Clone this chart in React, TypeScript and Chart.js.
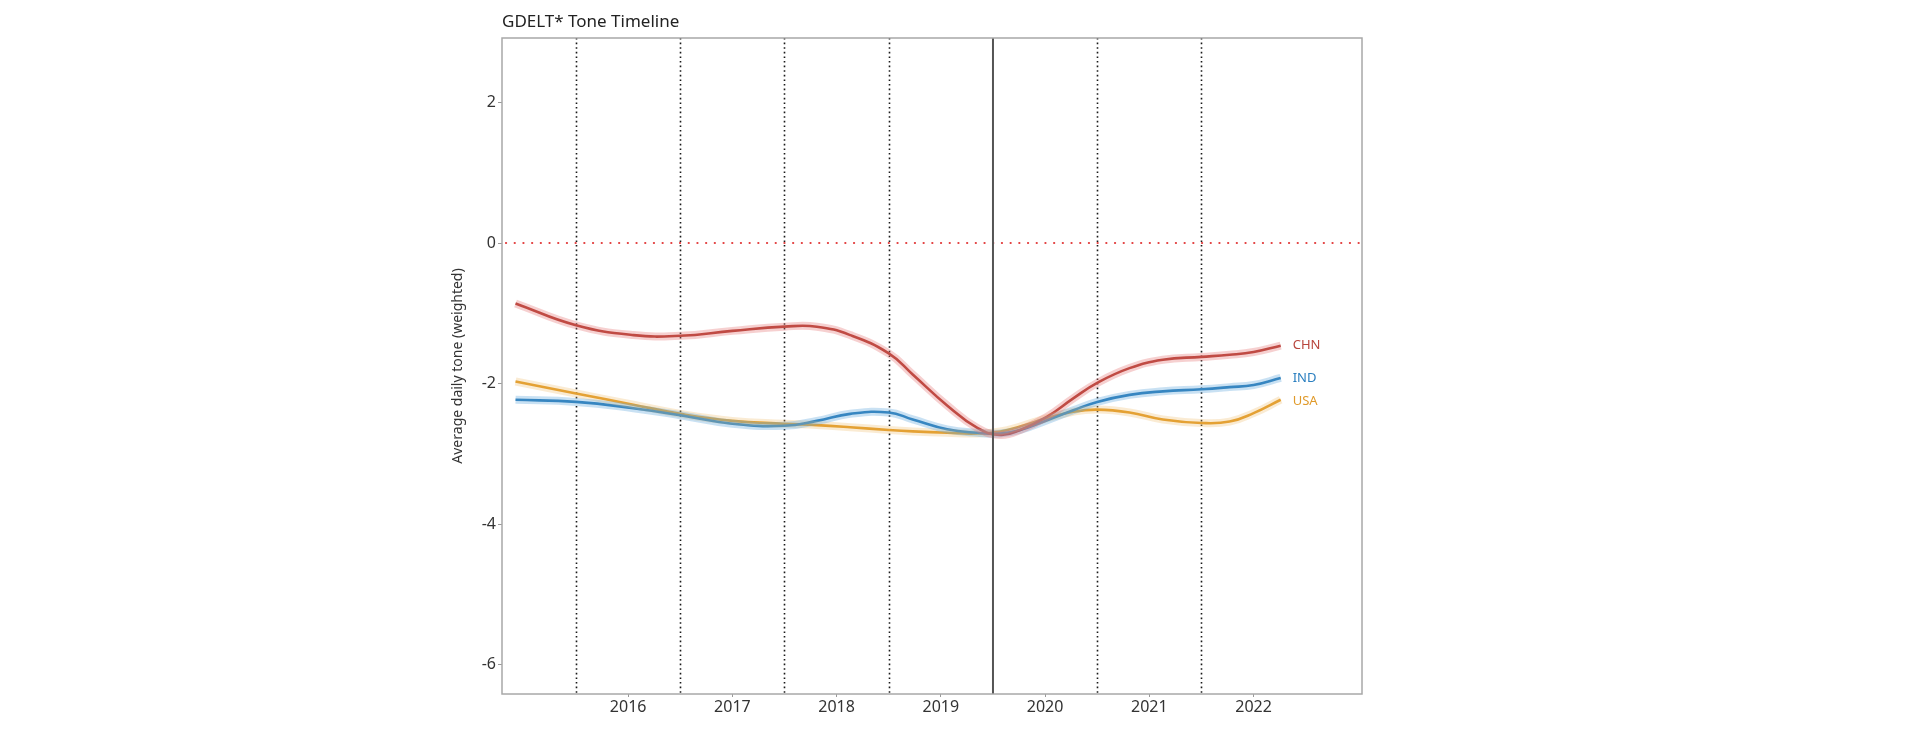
import React, { useEffect, useRef } from 'react';
import { Chart, registerables, Plugin } from 'chart.js';
Chart.register(...registerables);

// sampling positions (decimal years) where the smoothed curves were read
const years = [2014.92, 2015.5, 2016.05, 2016.5, 2017.0, 2017.5, 2017.81, 2018.13, 2018.5, 2018.73, 2019.06, 2019.35, 2019.57, 2019.76, 2020.02, 2020.27, 2020.5, 2020.81, 2021.13, 2021.5, 2021.77, 2022.0, 2022.26];

const chnTone = [-0.86, -1.17, -1.31, -1.32, -1.25, -1.19, -1.19, -1.31, -1.57, -1.87, -2.31, -2.63, -2.73, -2.66, -2.47, -2.21, -1.99, -1.78, -1.66, -1.62, -1.59, -1.55, -1.46];
const indTone = [-2.23, -2.26, -2.35, -2.45, -2.57, -2.60, -2.53, -2.43, -2.41, -2.51, -2.65, -2.70, -2.71, -2.66, -2.52, -2.38, -2.26, -2.16, -2.11, -2.08, -2.05, -2.02, -1.92];
const usaTone = [-1.97, -2.14, -2.30, -2.43, -2.53, -2.57, -2.59, -2.62, -2.66, -2.68, -2.70, -2.71, -2.68, -2.61, -2.49, -2.40, -2.37, -2.41, -2.51, -2.56, -2.54, -2.42, -2.23];

const yearTicks = [2016, 2017, 2018, 2019, 2020, 2021, 2022];
const toneTicks = [2, 0, -2, -4, -6];
const dottedMarkers = [2015.5, 2016.5, 2017.5, 2018.5, 2020.5, 2021.5];
const solidMarker = 2019.5;

const FONT = "'Noto Sans', 'Open Sans', sans-serif";

const series = [
  { label: 'CHN', values: chnTone, color: '#ad3328', glow: 'rgba(230,120,120,0.35)', text: '#b8453c' },
  { label: 'IND', values: indTone, color: '#1f74b2', glow: 'rgba(100,170,220,0.35)', text: '#2a7fc0' },
  { label: 'USA', values: usaTone, color: '#e0961c', glow: 'rgba(240,190,110,0.30)', text: '#e09a2a' },
];

const toPoints = (vals: number[]) => vals.map((v, i) => ({ x: years[i], y: v }));

const overlay: Plugin = {
  id: 'overlay',
  beforeDatasetsDraw(chart) {
    const { ctx, chartArea: a, scales } = chart;
    const x = scales.x;
    const y = scales.y;
    ctx.save();
    // dotted year markers
    ctx.strokeStyle = '#1a1a1a';
    ctx.lineWidth = 1.6;
    ctx.setLineDash([1.6, 3]);
    dottedMarkers.forEach((v) => {
      const px = Math.round(x.getPixelForValue(v)) + 0.5;
      ctx.beginPath();
      ctx.moveTo(px, a.top);
      ctx.lineTo(px, a.bottom);
      ctx.stroke();
    });
    // zero reference line
    ctx.strokeStyle = '#e23b3b';
    ctx.lineWidth = 2.2;
    ctx.lineCap = 'round';
    ctx.setLineDash([0.1, 8.6]);
    const zy = y.getPixelForValue(0);
    ctx.beginPath();
    ctx.moveTo(a.left + 4, zy);
    ctx.lineTo(a.right, zy);
    ctx.stroke();
    ctx.restore();
  },
  afterDatasetsDraw(chart) {
    const { ctx, chartArea: a, scales } = chart;
    ctx.save();
    // solid marker
    const sx = scales.x.getPixelForValue(solidMarker);
    ctx.strokeStyle = '#555';
    ctx.lineWidth = 2;
    ctx.beginPath();
    ctx.moveTo(sx, a.top);
    ctx.lineTo(sx, a.bottom);
    ctx.stroke();
    // panel border
    ctx.strokeStyle = '#a8a8a8';
    ctx.lineWidth = 1.5;
    ctx.strokeRect(a.left, a.top, a.right - a.left, a.bottom - a.top);
    // series end labels
    ctx.font = `13px ${FONT}`;
    ctx.textBaseline = 'middle';
    const offsets = [0, 0, 2];
    series.forEach((s, i) => {
      const last = s.values.length - 1;
      const px = scales.x.getPixelForValue(years[last]) + 12;
      const py = scales.y.getPixelForValue(s.values[last]) + offsets[i];
      ctx.fillStyle = s.text;
      ctx.fillText(s.label, px, py);
    });
    // title
    ctx.fillStyle = '#222';
    ctx.font = `17px ${FONT}`;
    ctx.textBaseline = 'alphabetic';
    ctx.fillText('GDELT* Tone Timeline', a.left, 27);
    ctx.restore();
  },
};

const App: React.FC = () => {
  const canvasRef = useRef<HTMLCanvasElement>(null);
  const chartRef = useRef<Chart | null>(null);

  useEffect(() => {
    document.body.style.margin = '0';
    if (!canvasRef.current) return;
    const ctx = canvasRef.current.getContext('2d');
    if (!ctx) return;

    const datasets: any[] = [];
    series.forEach((s) => {
      datasets.push({
        label: s.label + ' band',
        data: toPoints(s.values),
        borderColor: s.glow,
        borderWidth: 8,
        pointRadius: 0,
        tension: 0.45,
        fill: false,
      });
    });
    series.forEach((s) => {
      datasets.push({
        label: s.label,
        data: toPoints(s.values),
        borderColor: s.color,
        borderWidth: 2.6,
        pointRadius: 0,
        tension: 0.45,
        fill: false,
      });
    });

    chartRef.current = new Chart(ctx, {
      type: 'line',
      data: { datasets },
      options: {
        animation: false,
        responsive: true,
        maintainAspectRatio: false,
        layout: { padding: { left: 450, right: 558, top: 38, bottom: 0 } },
        plugins: {
          legend: { display: false },
          title: { display: false },
          tooltip: { enabled: false },
        },
        scales: {
          x: {
            type: 'linear',
            min: 2014.79,
            max: 2023.04,
            afterBuildTicks: (scale: any) => {
              scale.ticks = yearTicks.map((v) => ({ value: v }));
            },
            afterFit: (scale: any) => {
              scale.height = 46;
            },
            grid: { drawOnChartArea: false, drawTicks: true, tickLength: 3, color: '#999' },
            border: { display: false },
            ticks: {
              color: '#333',
              font: { family: FONT, size: 16 },
              padding: 1,
              callback: (v: any) => String(v),
            },
          },
          y: {
            min: -6.415,
            max: 2.916,
            afterBuildTicks: (scale: any) => {
              scale.ticks = toneTicks.map((v) => ({ value: v }));
            },
            afterFit: (scale: any) => {
              scale.width = 52;
            },
            grid: { drawOnChartArea: false, drawTicks: true, tickLength: 4, color: '#999' },
            border: { display: false },
            ticks: {
              color: '#333',
              font: { family: FONT, size: 16 },
              padding: 2,
              callback: (v: any) => String(v),
            },
            title: {
              display: true,
              text: 'Average daily tone (weighted)',
              color: '#333',
              font: { family: FONT, size: 14 },
              padding: { top: 0, bottom: 0 },
            },
          },
        },
      },
      plugins: [overlay],
    });

    return () => {
      if (chartRef.current) {
        chartRef.current.destroy();
        chartRef.current = null;
      }
    };
  }, []);

  return (
    <div style={{ position: 'relative', width: 1920, height: 740, background: '#fff' }}>
      <canvas ref={canvasRef}></canvas>
    </div>
  );
};

export default App;
